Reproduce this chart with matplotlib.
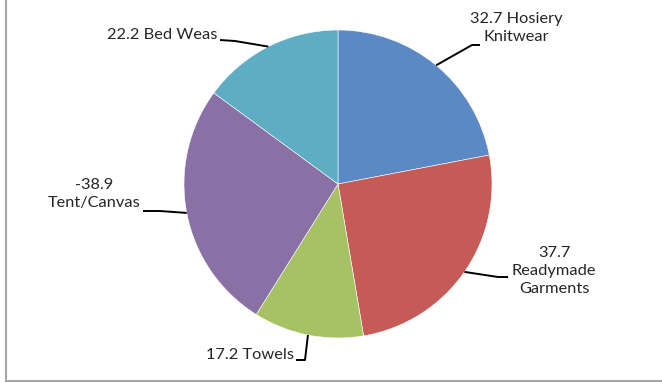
import numpy as np
import matplotlib.pyplot as plt
from matplotlib.lines import Line2D

categories = ['Hosiery\nKnitwear', 'Readymade\nGarments', 'Towels', 'Tent/Canvas', 'Bed Weas']
values = [32.7, 37.7, 17.2, -38.9, 22.2]
label_texts = ['32.7 Hosiery\nKnitwear', '37.7\nReadymade\nGarments', '17.2 Towels',
               '-38.9\nTent/Canvas', '22.2 Bed Weas']
colors = ['#5A89C5', '#C65A57', '#A5C264', '#8970A5', '#5EADC5']

# label centre, elbow and end of the leader line (pixel units, y from bottom)
label_pos = [(516, 355), (554, 112), (250, 28), (94, 189), (162, 348)]
elbow_pos = [(472, 338), (498, 106), (305, 23), (160, 172), (235, 342)]
end_pos = [(480, 338), (508, 106), (296, 23), (143, 172), (220, 343)]

W, H = 662, 383
fig = plt.figure(figsize=(W / 100, H / 100), dpi=100)
ax = fig.add_axes([0, 0, 1, 1])

cx, cy, r = 338, 199, 154
wedges, _ = ax.pie(np.abs(values), colors=colors, startangle=90, counterclock=False,
                   center=(cx, cy), radius=r, frame=True,
                   wedgeprops=dict(edgecolor='white', linewidth=0.4))
ax.set_xlim(0, W)
ax.set_ylim(0, H)
ax.axis('off')

for w, txt, lp, ep, np_ in zip(wedges, label_texts, label_pos, elbow_pos, end_pos):
    mid = np.deg2rad((w.theta1 + w.theta2) / 2)
    ax_pt = (cx + r * np.cos(mid), cy + r * np.sin(mid))
    ax.plot([ax_pt[0], ep[0], np_[0]], [ax_pt[1], ep[1], np_[1]],
            color='black', lw=1.4, solid_capstyle='butt')
    ax.text(lp[0], lp[1], txt, ha='center', va='center', fontsize=11.8,
            family='Lato', color='#262626', linespacing=1.4)

# chart border (left and bottom edges)
fig.add_artist(Line2D([5.5 / W, 5.5 / W], [2 / H, 1], color='#A6A6A6', lw=1.5,
                      transform=fig.transFigure))
fig.add_artist(Line2D([5.5 / W, 1], [2 / H, 2 / H], color='#A6A6A6', lw=1.5,
                      transform=fig.transFigure))

fig.savefig('out.png', dpi=100)
